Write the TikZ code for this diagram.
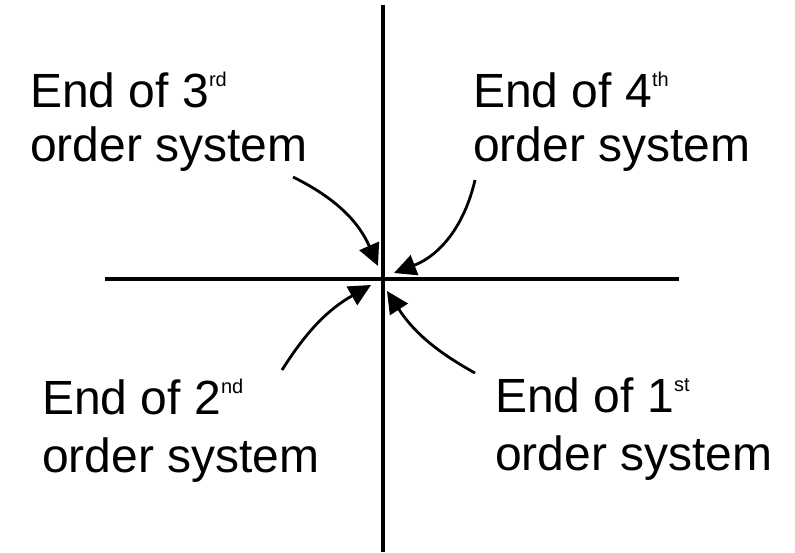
\documentclass[tikz,border=0pt]{standalone}
\usepackage{fontspec}
\setmainfont{Liberation Sans}
\usetikzlibrary{arrows.meta}
\newcommand\mysup[1]{\raisebox{21pt}{\fontsize{20}{20}\selectfont #1}}
\tikzset{
  axis/.style={line width=4.5pt},
  lbl/.style={inner sep=0pt, anchor=base west, align=left, font=\fontsize{48}{54}\selectfont},
  pointer/.style={line width=2.8pt, -{Triangle[length=22pt,width=21pt]}, shorten >=0pt}
}
\begin{document}
\begin{tikzpicture}[x=1pt,y=-1pt]
\path[use as bounding box, fill=white] (0,0) rectangle (795,552);
% axes
\coordinate (vtop) at (383,5);
\coordinate (vbot) at (383,552);
\coordinate (hl) at (105,279);
\coordinate (hr) at (679,279);
\draw[axis] (vtop) -- (vbot);
\draw[axis] (hl) -- (hr);
% labels (anchor is the baseline of the last line)
\node[lbl] (t3) at (30,161) {End of 3\mysup{rd}\\order system};
\node[lbl] (t4) at (473,161) {End of 4\mysup{th}\\order system};
\node[lbl] (t2) at (42,472) {End of 2\mysup{nd}\\[4pt]order system};
\node[lbl] (t1) at (495,470) {End of 1\mysup{st}\\[4pt]order system};
% arrow coordinates
\coordinate (s3) at (293,177); \coordinate (e3) at (378,266);
\coordinate (s4) at (475,180); \coordinate (e4) at (394,273);
\coordinate (s2) at (282,370); \coordinate (e2) at (371,285);
\coordinate (s1) at (475,373); \coordinate (e1) at (387,291);
\draw[pointer] (s3) to[bend left=20] (e3);
\draw[pointer] (s4) to[bend left=28] (e4);
\draw[pointer] (s2) to[bend left=14] (e2);
\draw[pointer] (s1) to[bend left=14] (e1);
\end{tikzpicture}
\end{document}
